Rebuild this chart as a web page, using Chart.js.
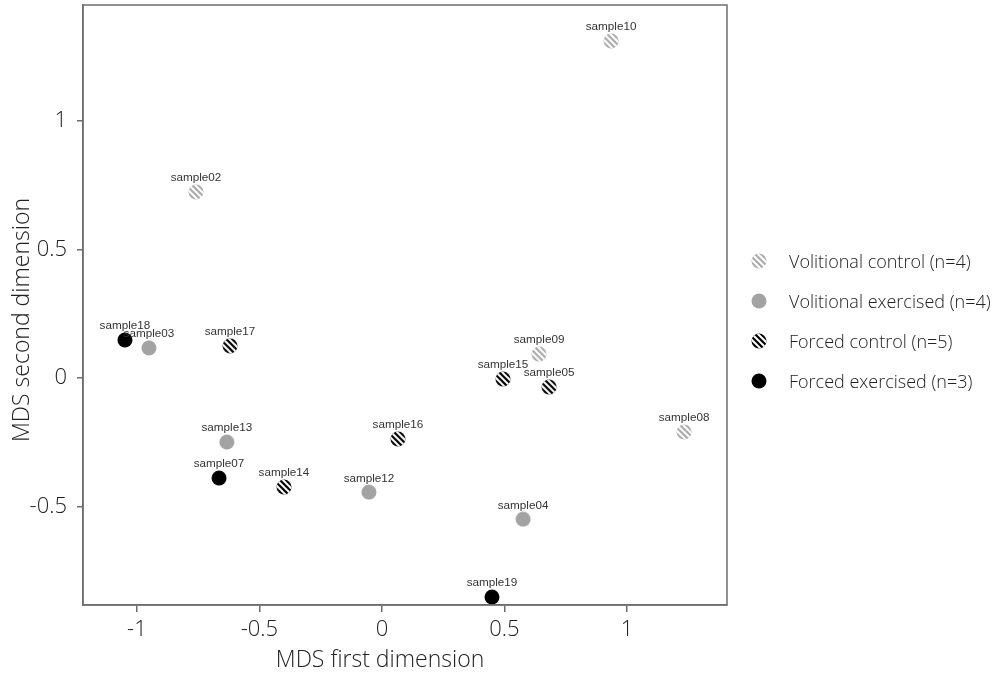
<!DOCTYPE html>
<html>
<head>
<meta charset="utf-8">
<script src="https://cdn.jsdelivr.net/npm/chart.js@4.4.1/dist/chart.umd.min.js"></script>
<style>
  body { margin: 0; background: #fff; }
  #wrap { position: relative; width: 1004px; height: 674px; }
  #legend {
    position: absolute; left: 751px; top: 241px;
    font-family: 'Open Sans', 'Noto Sans', sans-serif; font-weight: 300;
    font-size: 18px; color: #222;
  }
  .row { display: flex; align-items: center; height: 40px; }
  .row canvas { margin-right: 22px; }
</style>
</head>
<body>
<div id="wrap">
  <canvas id="mds" width="1004" height="674"></canvas>
  <div id="legend"></div>
</div>
<script>
// MDS coordinates per sample, and the group each sample belongs to.
const SAMPLES = ['sample10', 'sample02', 'sample18', 'sample03', 'sample17', 'sample09',
  'sample15', 'sample05', 'sample08', 'sample13', 'sample16', 'sample07', 'sample14',
  'sample12', 'sample04', 'sample19'];
const DIM1 = [0.935, -0.759, -1.049, -0.951, -0.620, 0.641, 0.494, 0.682, 1.233,
  -0.633, 0.065, -0.665, -0.400, -0.053, 0.576, 0.449];
const DIM2 = [1.311, 0.724, 0.148, 0.117, 0.125, 0.093, -0.004, -0.035, -0.210,
  -0.249, -0.237, -0.389, -0.424, -0.444, -0.549, -0.852];
const GROUP = [0, 0, 3, 1, 2, 0, 2, 2, 0, 1, 2, 3, 2, 1, 1, 3];

const GROUP_NAMES = ['Volitional control', 'Volitional exercised', 'Forced control', 'Forced exercised'];
const GROUP_N = [4, 4, 5, 3];
const GROUP_COLOR = ['#ababab', '#a3a3a3', '#000000', '#000000'];
const GROUP_STRIPED = [true, false, true, false];

const X_TICKS = [-1, -0.5, 0, 0.5, 1];
const Y_TICKS = [-0.5, 0, 0.5, 1];

// round marker, optionally with white diagonal stripes
function marker(color, striped) {
  const c = document.createElement('canvas');
  c.width = c.height = 16;
  const g = c.getContext('2d');
  g.beginPath();
  g.arc(8, 8, 7.5, 0, Math.PI * 2);
  g.fillStyle = color;
  g.fill();
  if (striped) {
    g.save();
    g.clip();
    g.strokeStyle = '#fff';
    g.lineWidth = 2;
    for (let k = -18; k <= 18; k += 6) {
      g.beginPath();
      g.moveTo(k, 0);
      g.lineTo(k + 16, 16);
      g.stroke();
    }
    g.restore();
  }
  return c;
}

const MARKERS = GROUP_NAMES.map((_, i) => marker(GROUP_COLOR[i], GROUP_STRIPED[i]));

// image point styles ignore the radius, keep it small so the layout adds no overflow room
const datasets = GROUP_NAMES.map((name, gi) => ({
  label: `${name} (n=${GROUP_N[gi]})`,
  data: SAMPLES.map((s, i) => (GROUP[i] === gi ? { x: DIM1[i], y: DIM2[i] } : null)).filter(Boolean),
  pointStyle: MARKERS[gi],
  pointRadius: 1,
  pointHoverRadius: 1,
  pointBorderWidth: 0,
  clip: false,
}));

const AXIS = '#6e6e6e';
const TICK_FONT = { family: "'Open Sans', 'Noto Sans', sans-serif", size: 22, weight: 300 };

// sample names above each point
const sampleLabels = {
  id: 'sampleLabels',
  afterDatasetsDraw(chart) {
    const { ctx, scales: { x, y } } = chart;
    ctx.save();
    ctx.font = '11.7px "Liberation Sans", Arial, sans-serif';
    ctx.fillStyle = '#333';
    ctx.textAlign = 'center';
    ctx.textBaseline = 'bottom';
    SAMPLES.forEach((s, i) => {
      ctx.fillText(s, x.getPixelForValue(DIM1[i]), y.getPixelForValue(DIM2[i]) - 8);
    });
    ctx.restore();
  },
};

// box round the plot plus the two axis titles
const frame = {
  id: 'frame',
  afterDraw(chart) {
    const { ctx, chartArea: a } = chart;
    ctx.save();
    ctx.strokeStyle = AXIS;
    ctx.lineWidth = 1.5;
    ctx.strokeRect(a.left, a.top, a.right - a.left, a.bottom - a.top);
    ctx.fillStyle = '#222';
    ctx.font = "300 23px 'Open Sans', 'Noto Sans', sans-serif";
    ctx.textAlign = 'center';
    ctx.textBaseline = 'middle';
    ctx.fillText('MDS first dimension', a.left + 297, a.bottom + 55);
    ctx.translate(a.left - 61, a.top + 315);
    ctx.rotate(-Math.PI / 2);
    ctx.fillText('MDS second dimension', 0, 0);
    ctx.restore();
  },
};

// fixed axis boxes, no extra room for overhanging tick labels
function fixX(s) { s.height = 69; s.paddingLeft = 0; s.paddingRight = 0; }
function fixY(s) { s.width = 83; s.paddingTop = 0; s.paddingBottom = 0; }

new Chart(document.getElementById('mds'), {
  type: 'scatter',
  data: { datasets },
  options: {
    responsive: false,
    animation: false,
    events: [],
    layout: { padding: { top: 5, right: 277, left: 0, bottom: 0 } },
    plugins: { legend: { display: false }, tooltip: { enabled: false } },
    scales: {
      x: {
        type: 'linear',
        min: -1.22,
        max: 1.408,
        afterBuildTicks: (s) => { s.ticks = X_TICKS.map((v) => ({ value: v })); },
        afterFit: fixX,
        ticks: { color: '#222', font: TICK_FONT, padding: 5, maxRotation: 0, callback: (v) => String(v) },
        grid: { drawOnChartArea: false, drawTicks: true, tickLength: 7, color: AXIS, lineWidth: 1.5 },
        border: { color: AXIS, width: 1.5 },
      },
      y: {
        type: 'linear',
        min: -0.883,
        max: 1.451,
        afterBuildTicks: (s) => { s.ticks = Y_TICKS.map((v) => ({ value: v })); },
        afterFit: fixY,
        ticks: { color: '#222', font: TICK_FONT, padding: 10, callback: (v) => String(v) },
        grid: { drawOnChartArea: false, drawTicks: true, tickLength: 6, color: AXIS, lineWidth: 1.5 },
        border: { color: AXIS, width: 1.5 },
      },
    },
  },
  plugins: [sampleLabels, frame],
});

// legend to the right of the plot
const legend = document.getElementById('legend');
GROUP_NAMES.forEach((name, gi) => {
  const row = document.createElement('div');
  row.className = 'row';
  row.appendChild(marker(GROUP_COLOR[gi], GROUP_STRIPED[gi]));
  const txt = document.createElement('span');
  txt.textContent = `${name} (n=${GROUP_N[gi]})`;
  row.appendChild(txt);
  legend.appendChild(row);
});
</script>
</body>
</html>
